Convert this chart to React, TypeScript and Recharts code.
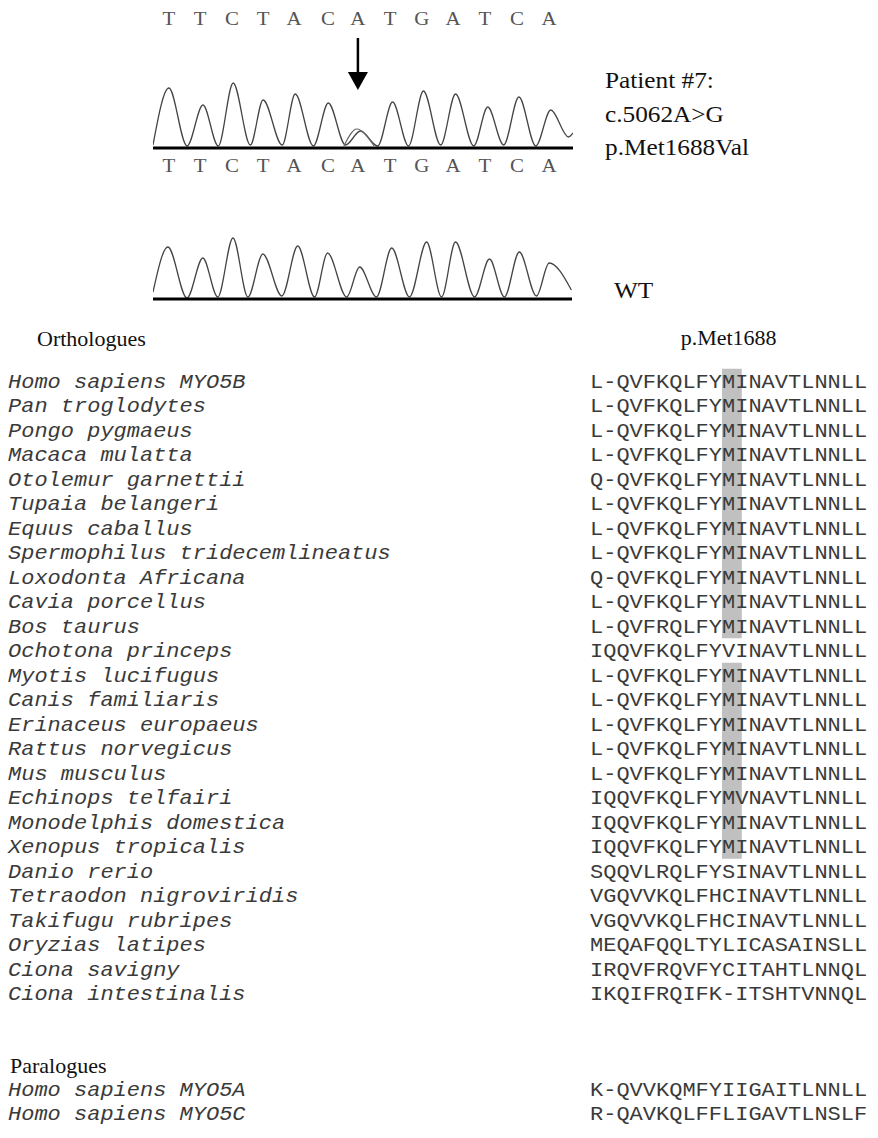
import React from "react";
import {
    LineChart,
    Line,
    XAxis,
    YAxis,
    ReferenceLine,
    ReferenceDot,
    ComposedChart,
    Scatter,
    ReferenceArea,
} from "recharts";

const SERIF = '"Liberation Serif", "Times New Roman", serif';
const MONO = '"Liberation Mono", "Courier New", monospace';
// the scanned figure is a little wider than tall, so text gets stretched
const STRETCH = 1.1;

// base calls above and below the patient trace
const REFERENCE_BASES = ["T", "T", "C", "T", "A", "C", "A", "T", "G", "A", "T", "C", "A"];
const CALLED_BASES = ["T", "T", "C", "T", "A", "C", "A", "T", "G", "A", "T", "C", "A"];
const BASE_POSITIONS = [5, 14.8, 24.8, 34.6, 44.3, 55, 64.4, 74.5, 84.5, 94.3, 104.3, 114.4, 124.5];
const MUTATION_POS = 64.4;

// patient #7 trace (scan position / signal)
const PATIENT_POS = [0, 5.0, 10.7, 15.7, 20.5, 25.2, 30.6, 34.6, 40.6, 44.7, 50.4, 55.1, 60.5, 65.2, 70.6, 75.3, 80.3, 85.0, 90.4, 95.1, 100.8, 105.2, 110.2, 115.0, 120.3, 125.0, 130.6, 132];
const PATIENT_SIGNAL = [3, 60, 2, 43, 2, 65, 3, 48, 3, 54, 2, 45, 3, 17, 2, 46, 2, 57, 3, 54, 2, 41, 3, 51, 2, 38, 11, 15];
// second (G) allele under the arrow
const ALT_POS = [60, 64, 69.5];
const ALT_SIGNAL = [2, 19, 2];

// wild type trace
const WT_POS = [0, 4.7, 10.7, 15.7, 20.4, 25.2, 29.9, 34.6, 40.6, 45.6, 50.9, 55.0, 61.0, 65.1, 70.4, 75.2, 80.8, 86.2, 90.9, 95.3, 101.3, 106.0, 110.7, 115.4, 120.8, 124.8, 131.8];
const WT_SIGNAL = [7, 52, 1, 41, 2, 61, 2, 45, 3, 53, 2, 46, 2, 32, 2, 51, 2, 57, 2, 57, 2, 40, 2, 47, 3, 36, 9];

const ORTHO_SPECIES = [
    "Homo sapiens MYO5B",
    "Pan troglodytes",
    "Pongo pygmaeus",
    "Macaca mulatta",
    "Otolemur garnettii",
    "Tupaia belangeri",
    "Equus caballus",
    "Spermophilus tridecemlineatus",
    "Loxodonta Africana",
    "Cavia porcellus",
    "Bos taurus",
    "Ochotona princeps",
    "Myotis lucifugus",
    "Canis familiaris",
    "Erinaceus europaeus",
    "Rattus norvegicus",
    "Mus musculus",
    "Echinops telfairi",
    "Monodelphis domestica",
    "Xenopus tropicalis",
    "Danio rerio",
    "Tetraodon nigroviridis",
    "Takifugu rubripes",
    "Oryzias latipes",
    "Ciona savigny",
    "Ciona intestinalis",
];

const ORTHO_SEQS = [
    "L-QVFKQLFYMINAVTLNNLL",
    "L-QVFKQLFYMINAVTLNNLL",
    "L-QVFKQLFYMINAVTLNNLL",
    "L-QVFKQLFYMINAVTLNNLL",
    "Q-QVFKQLFYMINAVTLNNLL",
    "L-QVFKQLFYMINAVTLNNLL",
    "L-QVFKQLFYMINAVTLNNLL",
    "L-QVFKQLFYMINAVTLNNLL",
    "Q-QVFKQLFYMINAVTLNNLL",
    "L-QVFKQLFYMINAVTLNNLL",
    "L-QVFRQLFYMINAVTLNNLL",
    "IQQVFKQLFYVINAVTLNNLL",
    "L-QVFKQLFYMINAVTLNNLL",
    "L-QVFKQLFYMINAVTLNNLL",
    "L-QVFKQLFYMINAVTLNNLL",
    "L-QVFKQLFYMINAVTLNNLL",
    "L-QVFKQLFYMINAVTLNNLL",
    "IQQVFKQLFYMVNAVTLNNLL",
    "IQQVFKQLFYMINAVTLNNLL",
    "IQQVFKQLFYMINAVTLNNLL",
    "SQQVLRQLFYSINAVTLNNLL",
    "VGQVVKQLFHCINAVTLNNLL",
    "VGQVVKQLFHCINAVTLNNLL",
    "MEQAFQQLTYLICASAINSLL",
    "IRQVFRQVFYCITAHTLNNQL",
    "IKQIFRQIFK-ITSHTVNNQL",
];

const PARA_SPECIES = ["Homo sapiens MYO5A", "Homo sapiens MYO5C"];
const PARA_SEQS = ["K-QVVKQMFYIIGAITLNNLL", "R-QAVKQLFFLIGAVTLNSLF"];

const MET_COL = 10; // p.Met1688 column
const COLS = 21;

const toTrace = (pos: number[], sig: number[]) => pos.map((p, i) => ({ pos: p, signal: sig[i] }));

const StretchText = ({ x, y, size, family, anchor = "start", fill = "#111", italic = false, children }: any) => (
    <text
        transform={`translate(${x} ${y}) scale(${STRETCH} 1)`}
        textAnchor={anchor}
        fontFamily={family}
        fontSize={size}
        fontStyle={italic ? "italic" : "normal"}
        fill={fill}
    >
        {children}
    </text>
);

const BaseTick = ({ x, y, payload, labels, offset }: any) => {
    const i = BASE_POSITIONS.indexOf(payload.value);
    return (
        <StretchText x={x} y={y + offset} size={19} family={SERIF} anchor="middle" fill="#555">
            {labels[i]}
        </StretchText>
    );
};

const ArrowHead = ({ cx, cy }: any) => (
    <path d={`M${cx - 10},${cy - 9}L${cx + 10},${cy - 9}L${cx},${cy + 9}Z`} fill="#000" />
);

const PatientChromatogram = () => (
    <LineChart width={878} height={185} margin={{ top: 6, right: 305, bottom: 0, left: 153 }}>
        <XAxis
            xAxisId="ref"
            orientation="top"
            type="number"
            dataKey="pos"
            domain={[0, 132]}
            allowDataOverflow
            ticks={BASE_POSITIONS}
            interval={0}
            height={24}
            axisLine={false}
            tickLine={false}
            tickSize={0}
            tickMargin={0}
            tick={(p: any) => <BaseTick {...p} labels={REFERENCE_BASES} offset={-5} />}
        />
        <XAxis
            xAxisId="calls"
            type="number"
            dataKey="pos"
            domain={[0, 132]}
            allowDataOverflow
            ticks={BASE_POSITIONS}
            interval={0}
            height={37}
            axisLine={{ stroke: "#000", strokeWidth: 3 }}
            tickLine={false}
            tickSize={0}
            tickMargin={0}
            tick={(p: any) => <BaseTick {...p} labels={CALLED_BASES} offset={24} />}
        />
        <YAxis hide domain={[0, 118]} allowDataOverflow />
        <Line
            xAxisId="calls"
            data={toTrace(PATIENT_POS, PATIENT_SIGNAL)}
            type="monotone"
            dataKey="signal"
            stroke="#444"
            strokeWidth={1.3}
            dot={false}
            isAnimationActive={false}
        />
        <Line
            xAxisId="calls"
            data={toTrace(ALT_POS, ALT_SIGNAL)}
            type="monotone"
            dataKey="signal"
            stroke="#666"
            strokeWidth={1.2}
            dot={false}
            isAnimationActive={false}
        />
        <ReferenceLine
            xAxisId="calls"
            segment={[
                { x: MUTATION_POS, y: 110 },
                { x: MUTATION_POS, y: 76 },
            ]}
            stroke="#000"
            strokeWidth={2.5}
        />
        <ReferenceDot xAxisId="calls" x={MUTATION_POS} y={67} shape={ArrowHead} />
    </LineChart>
);

const WildTypeChromatogram = () => (
    <LineChart width={878} height={90} data={toTrace(WT_POS, WT_SIGNAL)} margin={{ top: 10, right: 306, bottom: 10, left: 153 }}>
        <XAxis
            type="number"
            dataKey="pos"
            domain={[0, 132]}
            allowDataOverflow
            height={1}
            tick={false}
            tickLine={false}
            axisLine={{ stroke: "#000", strokeWidth: 3 }}
        />
        <YAxis hide domain={[0, 69]} allowDataOverflow />
        <Line type="monotone" dataKey="signal" stroke="#444" strokeWidth={1.3} dot={false} isAnimationActive={false} />
    </LineChart>
);

const SpeciesTick = ({ y, payload, names }: any) => (
    <StretchText x={8} y={y + 6.5} size={20} family={MONO} italic fill="#3a3a3a">
        {names[payload.value]}
    </StretchText>
);

const Residue = ({ cx, cy, payload }: any) => (
    <StretchText x={cx} y={cy + 6.5} size={20} family={MONO} anchor="middle" fill="#3a3a3a">
        {payload.aa}
    </StretchText>
);

const metRuns = (seqs: string[]) => {
    const runs: [number, number][] = [];
    seqs.forEach((s, i) => {
        if (s[MET_COL] !== "M") return;
        const last = runs[runs.length - 1];
        if (last && last[1] === i - 1) last[1] = i;
        else runs.push([i, i]);
    });
    return runs;
};

const Alignment = ({ species, seqs, height, top, bottom }: any) => {
    const cells = seqs.flatMap((s: string, row: number) =>
        s.split("").map((aa, col) => ({ col, row, aa }))
    );
    return (
        <ComposedChart width={878} height={height} margin={{ top, right: 10.8, bottom, left: 8 }}>
            <XAxis type="number" dataKey="col" domain={[-0.5, COLS - 0.5]} allowDataOverflow hide />
            <YAxis
                type="number"
                dataKey="row"
                domain={[-0.5, species.length - 0.5]}
                allowDataOverflow
                reversed
                width={582}
                ticks={species.map((_: string, i: number) => i)}
                interval={0}
                axisLine={false}
                tickLine={false}
                tick={(p: any) => <SpeciesTick {...p} names={species} />}
            />
            {metRuns(seqs).map(([a, b]) => (
                <ReferenceArea
                    key={a}
                    x1={MET_COL - 0.5}
                    x2={MET_COL + 1}
                    y1={a - 0.5}
                    y2={b + 0.5}
                    fill="#c0c0c0"
                    fillOpacity={1}
                    stroke="none"
                />
            ))}
            <Scatter data={cells} shape={Residue} isAnimationActive={false} />
        </ComposedChart>
    );
};

const App: React.FC = () => (
    <div style={{ position: "absolute", left: 0, top: 0, width: 878, height: 1138, background: "#fff" }}>
        <div style={{ position: "absolute", left: 0, top: 0 }}>
            <PatientChromatogram />
        </div>
        <div style={{ position: "absolute", left: 0, top: 220 }}>
            <WildTypeChromatogram />
        </div>
        <div style={{ position: "absolute", left: 0, top: 330 }}>
            <Alignment species={ORTHO_SPECIES} seqs={ORTHO_SEQS} height={680} top={38.75} bottom={4.25} />
        </div>
        <div style={{ position: "absolute", left: 0, top: 1040 }}>
            <Alignment species={PARA_SPECIES} seqs={PARA_SEQS} height={98} top={36.75} bottom={12.25} />
        </div>
        <svg width={878} height={1138} style={{ position: "absolute", left: 0, top: 0, pointerEvents: "none" }}>
            <StretchText x={605} y={88} size={23} family={SERIF}>Patient #7:</StretchText>
            <StretchText x={605} y={122} size={23} family={SERIF}>c.5062A&gt;G</StretchText>
            <StretchText x={605} y={155} size={23} family={SERIF}>p.Met1688Val</StretchText>
            <StretchText x={614} y={298} size={23} family={SERIF}>WT</StretchText>
            <StretchText x={37} y={346} size={20} family={SERIF}>Orthologues</StretchText>
            <StretchText x={728.6} y={345} size={20} family={SERIF} anchor="middle">p.Met1688</StretchText>
            <StretchText x={10} y={1073} size={20} family={SERIF}>Paralogues</StretchText>
        </svg>
    </div>
);

export default App;
